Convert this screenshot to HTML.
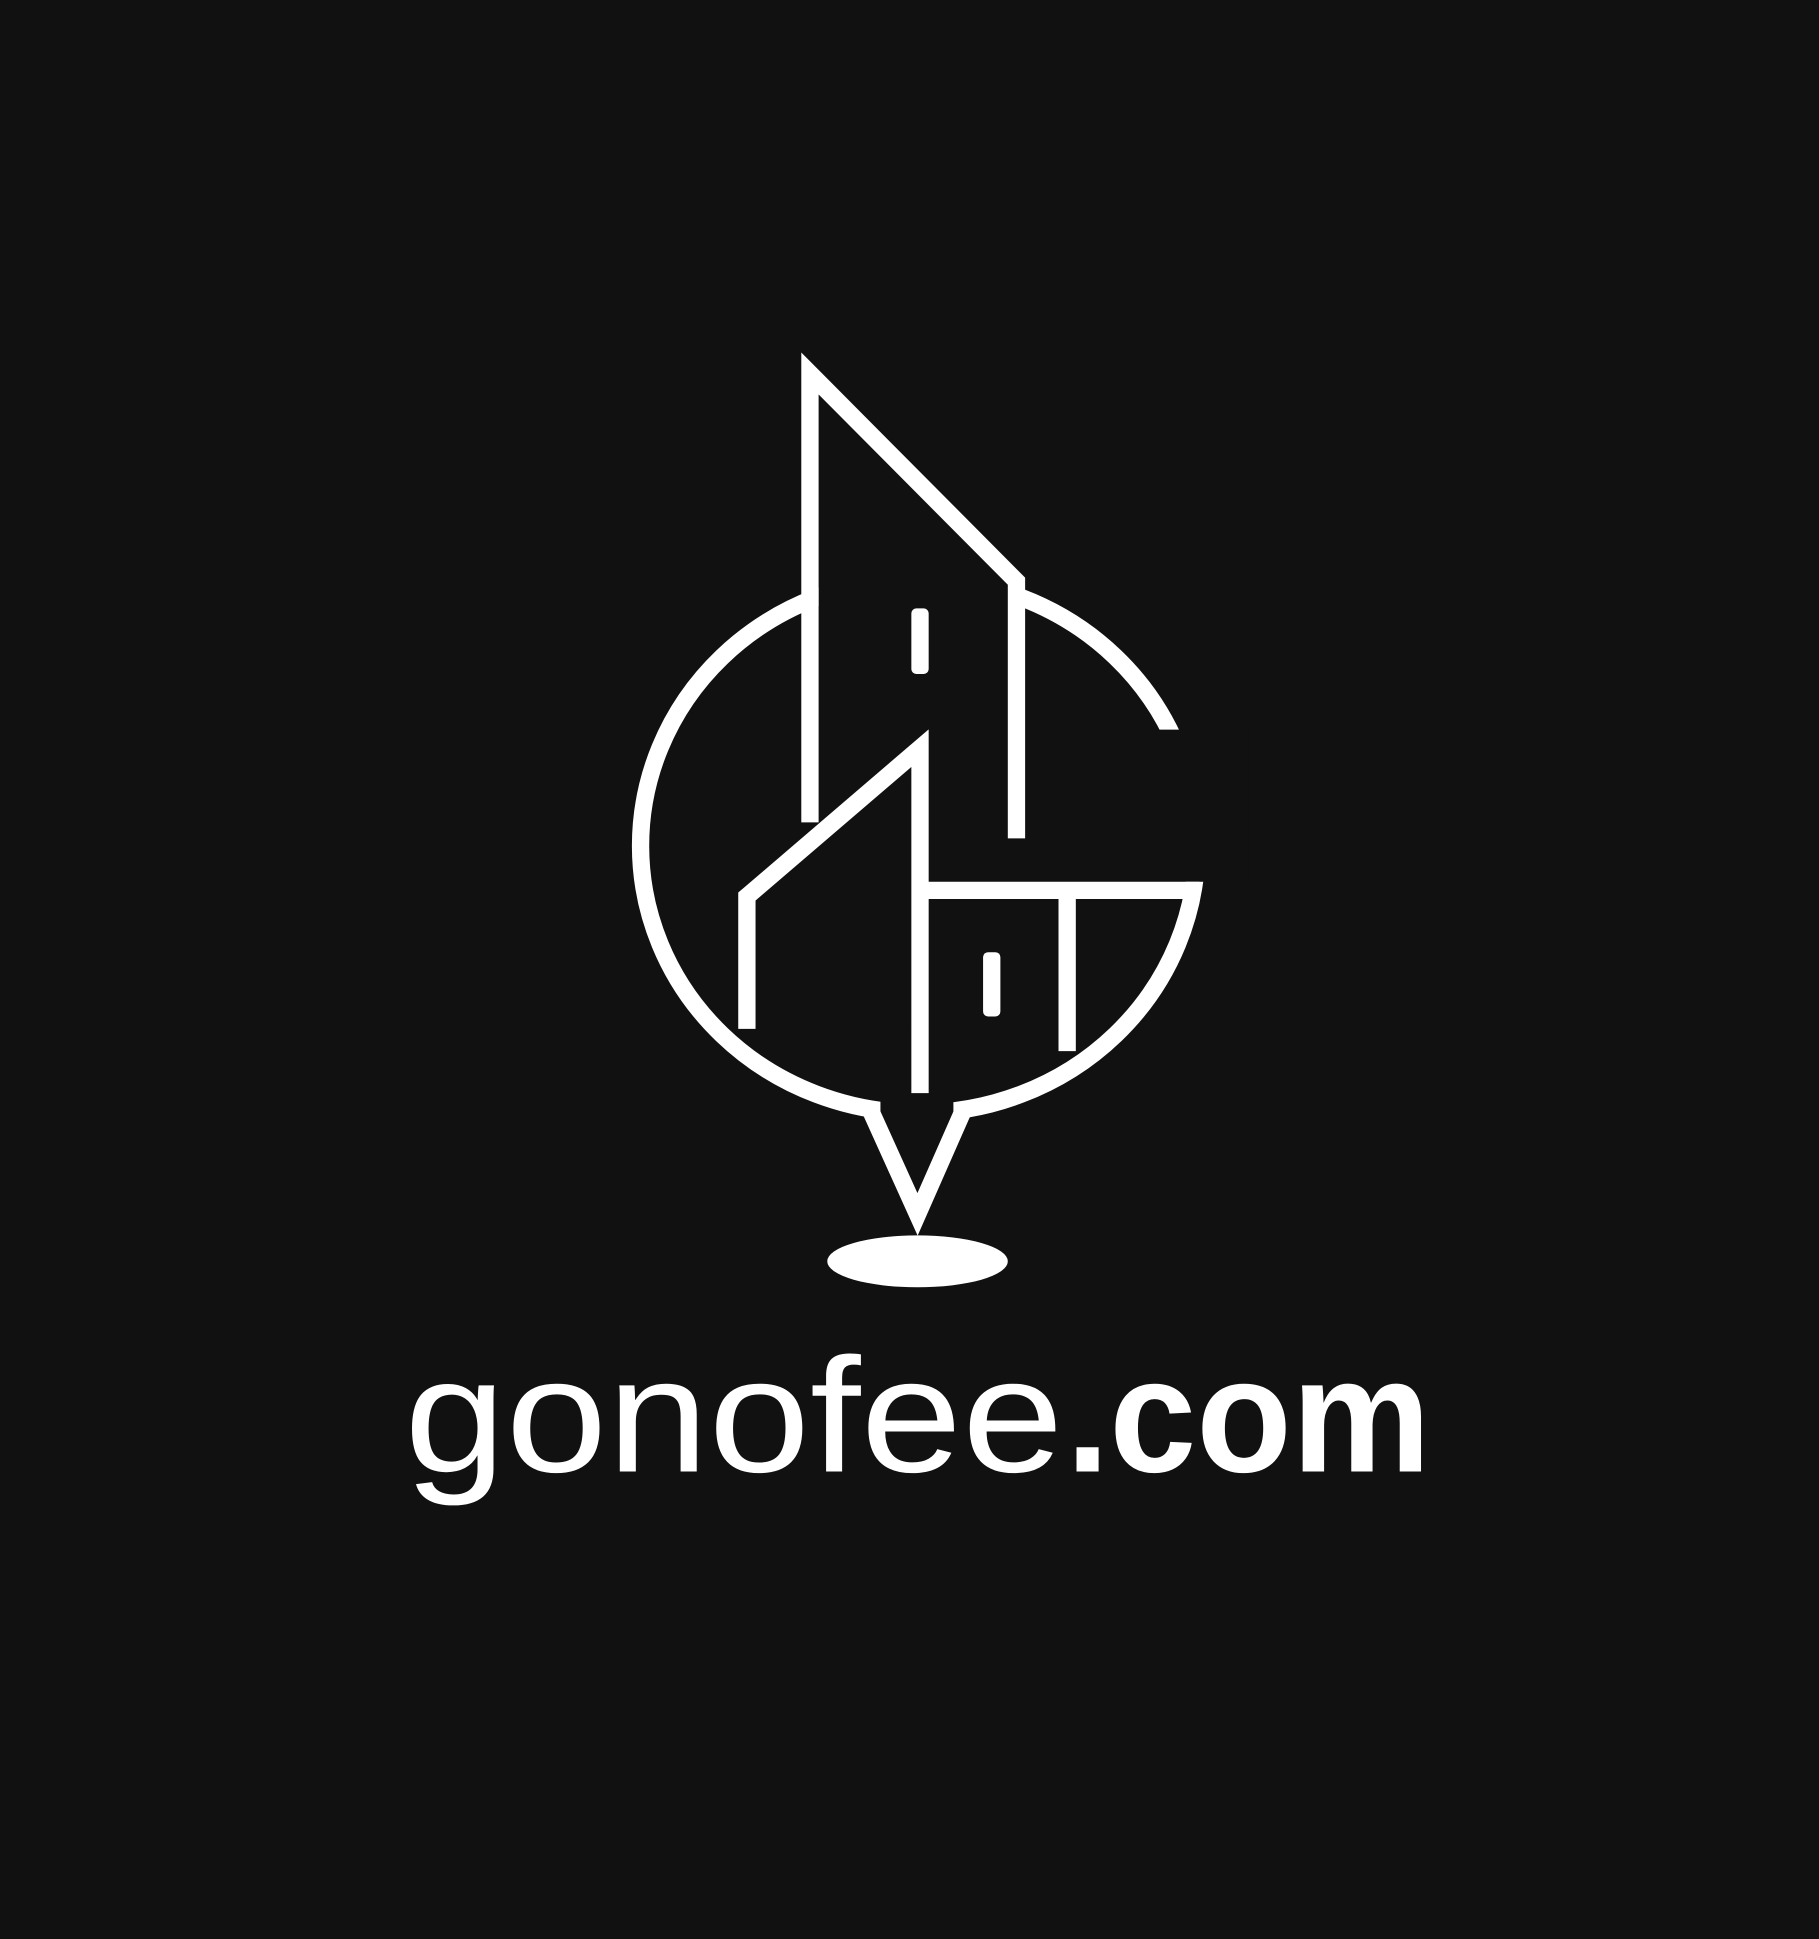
<!DOCTYPE html>
<html>
<head>
<meta charset="utf-8">
<style>
html,body{margin:0;padding:0;background:#111111;}
svg{display:block;}
</style>
</head>
<body>
<svg width="1819" height="1939" viewBox="0 0 1471 1568" preserveAspectRatio="none" xmlns="http://www.w3.org/2000/svg">
  <rect x="0" y="0" width="1471" height="1568" fill="#111111"/>
  <g fill="none" stroke="#ffffff" stroke-width="14" stroke-linejoin="miter">
    <ellipse cx="743" cy="684" rx="225" ry="216"/>
  </g>
  <g fill="#111111">
    <polygon points="662,430 816,430 816,520 662,520"/>
    <polygon points="870,590 1010,590 1010,713 870,713"/>
    <rect x="712" y="880" width="59" height="35"/>
  </g>
  <g fill="none" stroke="#ffffff" stroke-width="14" stroke-linejoin="miter" stroke-miterlimit="10">
    <polyline points="655,665 655,302 822,470 822,678"/>
    <polyline points="604,832 604,725 744,605 744,884"/>
    <line x1="744" y1="720" x2="970" y2="720"/>
    <line x1="863" y1="720" x2="863" y2="850"/>
    <polyline points="704,898 742,982 779,898"/>
  </g>
  <rect x="737" y="492" width="14" height="53" rx="4" fill="#ffffff"/>
  <rect x="795" y="770" width="14" height="52" rx="4" fill="#ffffff"/>
  <ellipse cx="742" cy="1020" rx="73" ry="21" fill="#ffffff"/>
  <text x="327" y="1190" font-family="'Liberation Sans', sans-serif" font-size="132" fill="#ffffff" textLength="533" lengthAdjust="spacingAndGlyphs">gonofee</text>
  <text x="862" y="1190" font-family="'Liberation Sans', sans-serif" font-size="132" font-weight="bold" fill="#ffffff" textLength="295" lengthAdjust="spacingAndGlyphs">.com</text>
</svg>
</body>
</html>
